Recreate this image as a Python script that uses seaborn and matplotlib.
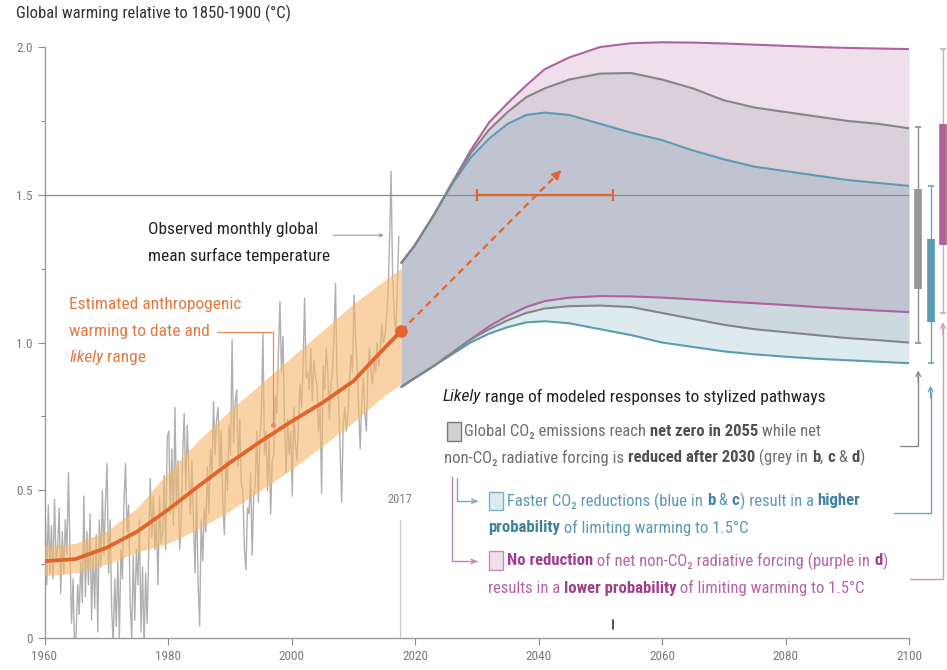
import numpy as np
import pandas as pd
import matplotlib.pyplot as plt
import seaborn as sns
from matplotlib.patches import Rectangle

W, H = 947, 670

# observed monthly global mean surface temperature
# (4 values per year starting 1960)
obs_temp = [
    0.42, 0.18, 0.45, 0.22,  0.38, 0.20, 0.47, 0.26,  0.30, 0.44, 0.15, 0.36,
    0.22, 0.40, 0.28, 0.56,  0.30, 0.05, 0.20, -0.05, 0.02, 0.18, 0.08, 0.26,
    0.12, 0.48, 0.14, 0.36,  0.18, 0.42, 0.06, 0.30,  0.10, 0.35, 0.02, 0.40,
    0.24, 0.50, 0.28, 0.46,  0.59, 0.22, 0.40, 0.10,  -0.02, 0.20, 0.04, 0.26,
    0.00, 0.30, 0.20, 0.46,  0.59, 0.36, 0.45, 0.12,  0.00, 0.28, 0.06, 0.30,
    0.18, 0.40, 0.02, 0.24,  -0.03, 0.22, 0.05, 0.30, 0.54, 0.34, 0.48, 0.30,
    0.40, 0.18, 0.48, 0.32,  0.36, 0.55, 0.30, 0.68,  0.70, 0.42, 0.64, 0.38,
    0.78, 0.44, 0.60, 0.30,  0.38, 0.62, 0.76, 0.50,  0.72, 0.56, 0.42, 0.60,
    0.40, 0.22, 0.50, 0.18,  0.04, 0.40, 0.26, 0.44,  0.36, 0.58, 0.42, 0.64,
    0.56, 0.80, 0.62, 0.74,  0.78, 0.56, 0.70, 0.46,  0.35, 0.60, 0.50, 0.72,
    0.62, 1.01, 0.66, 0.80,  0.84, 0.58, 0.74, 0.52,  0.50, 0.30, 0.23, 0.44,
    0.42, 0.56, 0.28, 0.48,  0.52, 0.70, 0.46, 0.68,  0.76, 1.03, 0.62, 0.70,
    0.50, 0.68, 0.42, 0.60,  0.62, 0.82, 0.76, 0.96,  1.14, 0.90, 1.02, 0.72,
    0.56, 0.74, 0.62, 0.70,  0.48, 0.78, 0.66, 0.60,  0.72, 0.86, 0.78, 0.92,
    1.15, 0.88, 0.90, 0.84,  0.98, 0.80, 0.94, 0.88,  0.86, 0.70, 0.78, 0.49,
    0.92, 0.84, 0.98, 0.90,  0.74, 0.86, 0.90, 1.02,  1.20, 0.88, 0.80, 0.64,
    0.46, 0.72, 0.78, 0.70,  0.76, 0.86, 0.96, 0.90,  1.16, 1.02, 0.92, 0.78,
    0.64, 0.80, 0.88, 0.76,  0.70, 0.92, 0.98, 0.90,  0.86, 0.94, 0.90, 1.00,
    0.92, 0.98, 1.06, 1.00,  1.02, 1.08, 1.16, 1.34,  1.58, 1.22, 1.10, 1.02,
    1.18, 1.36,
]
obs_time = 1960.125 + np.arange(len(obs_temp)) * 0.25

# estimated anthropogenic warming and likely range
anth_year = [1960, 1965, 1970, 1975, 1980, 1985, 1990, 1995, 2000, 2005, 2010, 2015, 2017.8]
anth_mid = [0.26, 0.267, 0.305, 0.36, 0.434, 0.515, 0.593, 0.665, 0.733, 0.796, 0.869, 0.98, 1.04]
anth_low = [0.21, 0.22, 0.25, 0.29, 0.32, 0.37, 0.43, 0.50, 0.57, 0.65, 0.73, 0.82, 0.86]
anth_high = [0.31, 0.32, 0.36, 0.44, 0.56, 0.67, 0.77, 0.86, 0.95, 1.04, 1.13, 1.21, 1.25]

# likely range of modeled responses to stylized pathways
path_year = [2017.8, 2020, 2023, 2026, 2029, 2032, 2035, 2038, 2041, 2045, 2050,
             2055, 2060, 2065, 2070, 2075, 2080, 2085, 2090, 2095, 2100]
grey_high = [1.27, 1.33, 1.43, 1.54, 1.64, 1.72, 1.78, 1.83, 1.86, 1.89, 1.91,
             1.912, 1.89, 1.86, 1.82, 1.795, 1.78, 1.765, 1.75, 1.74, 1.725]
grey_low = [0.85, 0.88, 0.92, 0.965, 1.01, 1.045, 1.075, 1.10, 1.115, 1.123, 1.125,
            1.12, 1.10, 1.08, 1.06, 1.045, 1.035, 1.025, 1.015, 1.008, 1.0]
blue_high = [1.27, 1.33, 1.43, 1.535, 1.625, 1.69, 1.74, 1.77, 1.778, 1.77, 1.74,
             1.71, 1.685, 1.65, 1.62, 1.595, 1.58, 1.565, 1.55, 1.54, 1.53]
blue_low = [0.85, 0.88, 0.92, 0.96, 1.0, 1.03, 1.052, 1.068, 1.072, 1.065, 1.045,
            1.025, 1.0, 0.985, 0.97, 0.96, 0.952, 0.945, 0.94, 0.935, 0.93]
purple_high = [1.27, 1.33, 1.43, 1.54, 1.65, 1.745, 1.81, 1.87, 1.925, 1.965, 2.0,
               2.013, 2.016, 2.015, 2.012, 2.008, 2.004, 2.0, 1.997, 1.995, 1.993]
purple_low = [0.85, 0.88, 0.92, 0.965, 1.01, 1.055, 1.09, 1.12, 1.14, 1.152, 1.157,
              1.156, 1.152, 1.146, 1.139, 1.133, 1.127, 1.12, 1.114, 1.108, 1.103]

# 2100 ranges on the right: whisker low, box low, box high, whisker high
grey_2100 = [1.0, 1.18, 1.52, 1.73]
blue_2100 = [0.93, 1.07, 1.35, 1.53]
purple_2100 = [1.10, 1.33, 1.74, 1.995]

# years when 1.5C is reached (orange bar)
reach_years = [2030, 2052]
arrow_end = (2044, 1.59)

orange = '#e0652c'
band = '#f5b76a'
grey_c = '#858585'
blue_c = '#5a9cb4'
purple_c = '#b0629f'

sns.set_theme(style='white')
plt.rcParams['font.family'] = ['Roboto Condensed', 'Fira Sans Condensed', 'Roboto', 'DejaVu Sans']

fig = plt.figure(figsize=(W / 100, H / 100), dpi=100)
ax = fig.add_axes([44.5 / W, 32 / H, 864.5 / W, 605.75 / H])

# observed data + anthropogenic warming
sns.lineplot(x=obs_time, y=obs_temp, ax=ax, color='#b0b0b0', lw=1.0, zorder=2)
ax.fill_between(anth_year, anth_low, anth_high, color=band, alpha=0.6, lw=0, zorder=3)
sns.lineplot(x=anth_year, y=anth_mid, ax=ax, color=orange, lw=2.7, zorder=4)
ax.plot(anth_year[-1], anth_mid[-1], 'o', ms=8, color=orange, zorder=7)

# pathway plumes
ax.fill_between(path_year, purple_low, purple_high, color='#aa5f96', alpha=0.2, lw=0, zorder=2)
ax.fill_between(path_year, grey_low, grey_high, color='#7d7d87', alpha=0.16, lw=0, zorder=2)
ax.fill_between(path_year, blue_low, blue_high, color='#559baf', alpha=0.2, lw=0, zorder=2)
for lo, hi, c in [(purple_low, purple_high, purple_c), (blue_low, blue_high, blue_c),
                  (grey_low, grey_high, grey_c)]:
    sns.lineplot(x=path_year, y=hi, ax=ax, color=c, lw=1.5, zorder=4)
    sns.lineplot(x=path_year, y=lo, ax=ax, color=c, lw=1.5, zorder=4)

ax.axhline(1.5, color='#8c8c8c', lw=0.9, zorder=5)

# orange range + dashed arrow
ax.errorbar(np.mean(reach_years), 1.5, xerr=np.diff(reach_years)[0] / 2, color=orange,
            lw=1.6, capsize=4, capthick=1.6, zorder=6)
ax.plot([anth_year[-1], arrow_end[0] - 0.8], [anth_mid[-1], arrow_end[1] - 0.017],
        color=orange, lw=1.6, ls=(0, (3, 2.2)), zorder=6)
ax.annotate('', xy=arrow_end, xytext=(arrow_end[0] - 1.5, arrow_end[1] - 0.032),
            arrowprops=dict(arrowstyle='-|>', color=orange, lw=1.2, mutation_scale=14), zorder=6)

# 2100 ranges
for xpos, vals, thin, thick in [(2101.5, grey_2100, '#8e8e8e', '#969696'),
                                (2103.5, blue_2100, '#6aa6bd', '#5b9cb2'),
                                (2105.5, purple_2100, '#d2a3c8', '#b0619e')]:
    ax.plot([xpos, xpos], [vals[0], vals[3]], color=thin, lw=1, marker='_', ms=5,
            mew=1.2, clip_on=False, zorder=6)
    ax.plot([xpos, xpos], [vals[1], vals[2]], color=thick, lw=5.5, solid_capstyle='butt',
            clip_on=False, zorder=7)

# small marks
ax.plot([2017.5, 2017.5], [0, 0.40], color='#c8c8c8', lw=0.9, zorder=1)
ax.text(2017.5, 0.468, '2017', ha='center', va='center', fontsize=9, color='#808080')
ax.plot([2052, 2052], [0.03, 0.06], color='#333333', lw=1.2, zorder=6)

# axes styling
ax.set_xlim(1960, 2100)
ax.set_ylim(0, 2.05)
ax.set_xticks(range(1960, 2101, 20))
ax.set_yticks([0, 0.5, 1.0, 1.5, 2.0])
ax.set_yticklabels(['0', '0.5', '1.0', '1.5', '2.0'])
ax.set_yticks([0.25, 0.75, 1.25, 1.75], minor=True)
ax.tick_params(axis='both', which='major', colors='#8a8a8a', labelcolor='#7a7a7a',
               labelsize=9.5, length=5, width=0.8, direction='out', left=True, bottom=True)
ax.tick_params(axis='y', which='minor', colors='#8a8a8a', length=3, width=0.8, left=True)
ax.set_xlabel('')
ax.set_ylabel('')
for s in ['top', 'right']:
    ax.spines[s].set_visible(False)
for s in ['left', 'bottom']:
    ax.spines[s].set_color('#9a9a9a')
    ax.spines[s].set_linewidth(1.0)
ax.spines['left'].set_bounds(0, 2.0)


def chain(x, y, parts, size):
    # parts: (text, weight, style, colour) written one after the other on a line
    txt, wt, st, col = parts[0]
    prev = ax.text(x, y, txt, ha='left', va='center', fontsize=size, fontweight=wt,
                   fontstyle=st, color=col, clip_on=False)
    for txt, wt, st, col in parts[1:]:
        prev = ax.annotate(txt, xy=(1, 0.5), xycoords=prev, ha='left', va='center',
                           fontsize=size, fontweight=wt, fontstyle=st, color=col)
    return prev


fig.text(16 / W, 1 - 13 / H, 'Global warming relative to 1850-1900 (°C)', ha='left',
         va='center', fontsize=12, color='#333333')

ax.text(1976.8, 1.383, 'Observed monthly global', ha='left', va='center', fontsize=12.5,
        color='#222222')
ax.text(1976.8, 1.292, 'mean surface temperature', ha='left', va='center', fontsize=12.5,
        color='#222222')
ax.annotate('', xy=(2015.4, 1.363), xytext=(2006.3, 1.363),
            arrowprops=dict(arrowstyle='-|>', color='#a0a0a0', lw=0.8, mutation_scale=5))

oc = '#e6773f'
ax.text(1964.0, 1.129, 'Estimated anthropogenic', ha='left', va='center', fontsize=12.5, color=oc)
ax.text(1964.0, 1.037, 'warming to date and', ha='left', va='center', fontsize=12.5, color=oc)
chain(1964.0, 0.949, [('likely', 'normal', 'italic', oc), (' range', 'normal', 'normal', oc)], 12.5)
ax.plot([1987.9, 1997, 1997], [1.037, 1.037, 0.722], color='#ea8c60', lw=0.9, zorder=6)
ax.plot(1997, 0.722, 'o', ms=2.5, color='#ea8c60', zorder=6)

# legend block
k = '#222222'
chain(2024.5, 0.817, [('Likely', 'normal', 'italic', k),
                      (' range of modeled responses to stylized pathways', 'normal', 'normal', k)], 12.5)

gr, grb = '#6e6e6e', '#505050'
bl, blb = '#5a9ab2', '#3f829d'
pu, pub = '#b664a6', '#9f3f8b'
n, b, r = 'normal', 'bold', 'normal'
fs = 12

chain(2027.9, 0.698, [('Global CO₂ emissions reach ', n, r, gr), ('net zero in 2055', b, r, grb),
                      (' while net', n, r, gr)], fs)
chain(2024.7, 0.610, [('non-CO₂ radiative forcing is ', n, r, gr), ('reduced after 2030', b, r, grb),
                      (' (grey in ', n, r, gr), ('b', b, r, grb), (', ', n, r, gr), ('c', b, r, grb),
                      (' & ', n, r, gr), ('d', b, r, grb), (')', n, r, gr)], fs)
chain(2034.9, 0.464, [('Faster CO₂ reductions (blue in ', n, r, bl), ('b', b, r, blb),
                      (' & ', n, r, bl), ('c', b, r, blb), (') result in a ', n, r, bl),
                      ('higher', b, r, blb)], fs)
chain(2031.8, 0.373, [('probability', b, r, blb), (' of limiting warming to 1.5°C', n, r, bl)], fs)
chain(2034.9, 0.261, [('No reduction', b, r, pub),
                      (' of net non-CO₂ radiative forcing (purple in ', n, r, pu),
                      ('d', b, r, pub), (')', n, r, pu)], fs)
chain(2031.8, 0.169, [('results in a ', n, r, pu), ('lower probability', b, r, pub),
                      (' of limiting warming to 1.5°C', n, r, pu)], fs)

# legend swatches
for y0, fc, ec, x0 in [(0.668, '#d2d2d2', '#7a7a7a', 2025.2), (0.432, '#ddebf0', '#7fb0c4', 2032.0),
                       (0.231, '#efdeeb', '#c88cba', 2032.0)]:
    ax.add_patch(Rectangle((x0, y0), 2.2, 0.063, facecolor=fc, edgecolor=ec, lw=1,
                           clip_on=False, zorder=6))

# connectors inside legend
ax.plot([2026.75, 2026.75, 2030.0], [0.542, 0.463, 0.463], color='#7aaabd', lw=1, zorder=6)
ax.annotate('', xy=(2030.6, 0.463), xytext=(2029.0, 0.463),
            arrowprops=dict(arrowstyle='->', color='#7aaabd', lw=1, mutation_scale=8))
ax.plot([2025.95, 2025.95, 2030.0], [0.546, 0.259, 0.259], color='#c083b3', lw=1, zorder=6)
ax.annotate('', xy=(2030.5, 0.259), xytext=(2029.0, 0.259),
            arrowprops=dict(arrowstyle='->', color='#c083b3', lw=1, mutation_scale=8))

# connectors to the 2100 ranges
for x0, y0, x1, y1, c in [(2098.6, 0.651, 2101.5, 0.915, '#8a8a8a'),
                          (2097.6, 0.424, 2103.5, 0.864, '#6aa6bd'),
                          (2100.2, 0.200, 2105.5, 1.078, '#c99abf')]:
    ax.plot([x0, x1, x1], [y0, y0, y1 - 0.03], color=c, lw=1, clip_on=False, zorder=6)
    ax.annotate('', xy=(x1, y1), xytext=(x1, y1 - 0.06), annotation_clip=False,
                arrowprops=dict(arrowstyle='->', color=c, lw=1, mutation_scale=8))

fig.savefig('out.png', dpi=100)
